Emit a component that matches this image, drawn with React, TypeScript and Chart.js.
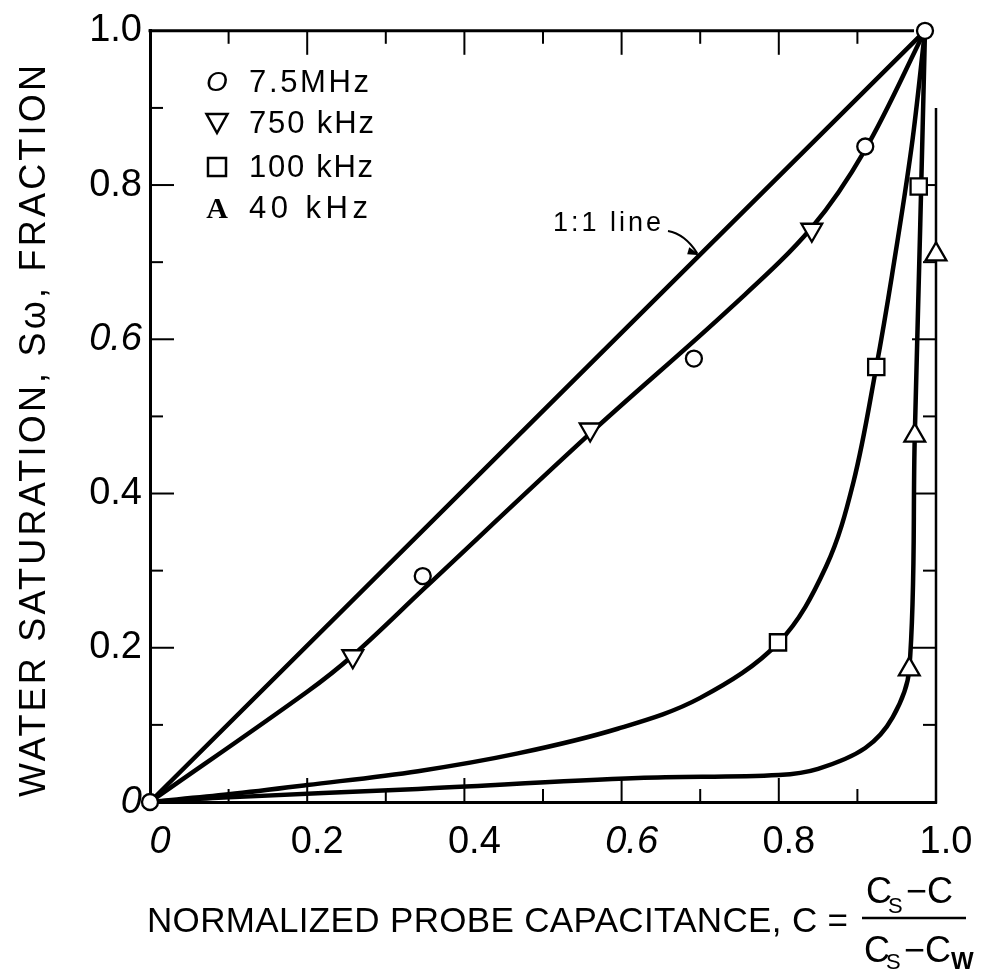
import React, { useEffect, useRef } from 'react';
import { Chart, registerables } from 'chart.js';

Chart.register(...registerables);

// ---------- data ----------
const xTickValues = [0, 0.2, 0.4, 0.6, 0.8, 1.0];
const yTickValues = [0, 0.2, 0.4, 0.6, 0.8, 1.0];
const frameTickValues = [0.1, 0.2, 0.3, 0.4, 0.5, 0.6, 0.7, 0.8, 0.9];
const italicTickValues = [0, 0.6];

// 1:1 line
const lineOneX = [0, 0.986];
const lineOneY = [0, 1.0];

// 7.5 MHz / 750 kHz fitted curve
const curveHighX = [0, 0.2, 0.258, 0.35, 0.56, 0.74, 0.842, 0.91, 0.986];
const curveHighY = [0, 0.143, 0.19, 0.278, 0.478, 0.642, 0.745, 0.846, 1.0];

// 100 kHz fitted curve
const curve100X = [0, 0.1, 0.2, 0.341, 0.468, 0.595, 0.7, 0.8, 0.86, 0.895, 0.924, 0.944, 0.969, 0.986];
const curve100Y = [0, 0.01, 0.022, 0.04, 0.063, 0.095, 0.135, 0.207, 0.305, 0.415, 0.564, 0.683, 0.85, 1.0];

// 40 kHz fitted curve
const curve40X = [0, 0.1, 0.341, 0.621, 0.8, 0.85, 0.91, 0.945, 0.966, 0.973, 0.98, 0.986];
const curve40Y = [0, 0.006, 0.017, 0.031, 0.035, 0.043, 0.07, 0.11, 0.172, 0.475, 0.75, 1.0];

// measured points
const pts75MHzX = [0, 0.347, 0.692, 0.91, 0.986];
const pts75MHzY = [0, 0.293, 0.575, 0.85, 1.0];
const pts750kX = [0.258, 0.56, 0.842];
const pts750kY = [0.189, 0.483, 0.742];
const pts100kX = [0.799, 0.924, 0.978];
const pts100kY = [0.207, 0.564, 0.798];
const pts40kX = [0.966, 0.973, 1.0];
const pts40kY = [0.172, 0.475, 0.71];

const legendLabels = ['7.5MHz', '750 kHz', '100 kHz', '40 kHz'];
const xTitle = 'NORMALIZED PROBE CAPACITANCE, C =';
const yTitle = 'WATER SATURATION, S\u03c9, FRACTION';
const lineLabel = '1:1 line';

const FONT = "'Liberation Sans', Arial, sans-serif";

const toPoints = (xs: number[], ys: number[]) => xs.map((x, i) => ({ x, y: ys[i] }));
const isItalic = (v: number) => italicTickValues.some((t) => Math.abs(t - v) < 1e-6);
const fmt = (v: number) => (Math.abs(v) < 1e-9 ? '0' : v.toFixed(1));

function fitText(ctx: CanvasRenderingContext2D, text: string, x: number, y: number, width: number) {
  const c: any = ctx;
  if ('letterSpacing' in c) c.letterSpacing = '0px';
  const w = ctx.measureText(text).width;
  const n = Array.from(text).length;
  ctx.textAlign = 'left';
  if ('letterSpacing' in c && n > 1) {
    const sp = (width - w) / (n - 1);
    c.letterSpacing = sp + 'px';
    ctx.fillText(text, x, y);
    c.letterSpacing = '0px';
  } else {
    ctx.save();
    ctx.translate(x, y);
    ctx.scale(width / w, 1);
    ctx.fillText(text, 0, 0);
    ctx.restore();
  }
}

function drawSymbol(ctx: CanvasRenderingContext2D, kind: number, cx: number, cy: number) {
  ctx.save();
  ctx.strokeStyle = '#000';
  ctx.fillStyle = '#000';
  ctx.lineWidth = 2.5;
  if (kind === 0) {
    ctx.font = `italic 28px ${FONT}`;
    ctx.textAlign = 'center';
    ctx.textBaseline = 'middle';
    ctx.fillText('O', cx, cy + 1);
  } else if (kind === 1) {
    ctx.beginPath();
    ctx.moveTo(cx - 10.5, cy - 9);
    ctx.lineTo(cx + 10.5, cy - 9);
    ctx.lineTo(cx, cy + 10);
    ctx.closePath();
    ctx.stroke();
  } else if (kind === 2) {
    ctx.beginPath();
    ctx.rect(cx - 9, cy - 9, 18, 18);
    ctx.stroke();
  } else {
    ctx.font = `bold 30px 'Liberation Serif', serif`;
    ctx.textAlign = 'center';
    ctx.textBaseline = 'alphabetic';
    ctx.fillText('A', cx, cy + 10);
  }
  ctx.restore();
}

const decorPlugin = {
  id: 'decor',
  beforeDatasetsDraw(chart: any) {
    const { ctx, chartArea } = chart;
    const xs = chart.scales.x;
    const ys = chart.scales.y;
    const { left, right, top, bottom } = chartArea;
    ctx.save();
    ctx.strokeStyle = '#000';
    ctx.lineCap = 'butt';
    // top frame
    ctx.lineWidth = 3;
    ctx.beginPath();
    ctx.moveTo(left - 1.5, top);
    ctx.lineTo(xs.getPixelForValue(0.972), top);
    ctx.stroke();
    // right frame
    ctx.lineWidth = 2.5;
    ctx.beginPath();
    ctx.moveTo(right, bottom + 1.5);
    ctx.lineTo(right, ys.getPixelForValue(0.9));
    ctx.stroke();
    // inward ticks
    ctx.lineWidth = 2;
    const seg = (a: number, b: number, c: number, d: number) => {
      ctx.beginPath();
      ctx.moveTo(a, b);
      ctx.lineTo(c, d);
      ctx.stroke();
    };
    for (const v of frameTickValues) {
      const major = Math.round(v * 10) % 2 === 0;
      const len = major ? 24 : 13;
      const px = xs.getPixelForValue(v);
      const py = ys.getPixelForValue(v);
      seg(px, bottom, px, bottom - len);
      seg(px, top, px, top + len);
      seg(left, py, left + len, py);
      if (v <= 0.8 + 1e-9) seg(right, py, right - len, py);
    }
    ctx.restore();
  },
  afterDraw(chart: any) {
    const { ctx, chartArea } = chart;
    const xs = chart.scales.x;
    const ys = chart.scales.y;
    const { left } = chartArea;
    ctx.save();
    ctx.fillStyle = '#000';
    ctx.strokeStyle = '#000';

    // legend
    const rowBase = [92, 133, 177, 218];
    const rowWidths = [120, 125, 124, 119];
    ctx.textBaseline = 'alphabetic';
    legendLabels.forEach((lab, i) => {
      drawSymbol(ctx, i, left + 67, rowBase[i] - 10);
      ctx.font = `31px ${FONT}`;
      fitText(ctx, lab, left + 99, rowBase[i], rowWidths[i]);
    });

    // 1:1 line label with arrow
    ctx.font = `27px ${FONT}`;
    ctx.textBaseline = 'alphabetic';
    fitText(ctx, lineLabel, 553, 231, 108);
    const tipX = xs.getPixelForValue(0.7);
    const tipY = ys.getPixelForValue(0.709);
    ctx.lineWidth = 2;
    ctx.beginPath();
    ctx.moveTo(668, 231);
    ctx.quadraticCurveTo(685, 234, tipX - 3, tipY - 2);
    ctx.stroke();
    ctx.beginPath();
    ctx.moveTo(tipX, tipY);
    ctx.lineTo(tipX - 11, tipY - 8);
    ctx.lineTo(tipX - 13, tipY - 1);
    ctx.closePath();
    ctx.fill();

    // x title
    ctx.font = `35px ${FONT}`;
    fitText(ctx, xTitle, 147, 932, 701);
    // fraction
    ctx.font = `36px ${FONT}`;
    ctx.fillText('C', 866, 903);
    ctx.font = `22px ${FONT}`;
    ctx.fillText('S', 888, 913);
    ctx.font = `36px ${FONT}`;
    ctx.fillText('\u2212C', 906, 903);
    ctx.lineWidth = 2.5;
    ctx.beginPath();
    ctx.moveTo(862, 918);
    ctx.lineTo(966, 918);
    ctx.stroke();
    ctx.font = `36px ${FONT}`;
    ctx.fillText('C', 864, 962);
    ctx.font = `22px ${FONT}`;
    ctx.fillText('S', 886, 969);
    ctx.font = `36px ${FONT}`;
    ctx.fillText('\u2212C', 904, 962);
    ctx.font = `bold 24px ${FONT}`;
    ctx.fillText('W', 951, 969);

    // y title (rotated)
    ctx.save();
    ctx.translate(32, 431);
    ctx.rotate(-Math.PI / 2);
    ctx.font = `36px ${FONT}`;
    ctx.textBaseline = 'alphabetic';
    fitText(ctx, yTitle, -366, 13, 732);
    ctx.restore();

    ctx.restore();
  },
};

export default function App() {
  const canvasRef = useRef<HTMLCanvasElement | null>(null);

  useEffect(() => {
    const canvas = canvasRef.current;
    if (!canvas) return;

    const lineDs = (data: any[]) => ({
      type: 'line' as const,
      data,
      showLine: true,
      borderColor: '#000',
      borderWidth: 4.5,
      pointRadius: 0,
      fill: false,
      tension: 0.35,
      cubicInterpolationMode: 'default' as const,
      borderCapStyle: 'round' as const,
      clip: false as any,
      order: 1,
    });
    const markerDs = (data: any[], style: string, radius: number, rotation = 0) => ({
      type: 'scatter' as const,
      data,
      showLine: false,
      pointStyle: style,
      pointRadius: radius,
      pointRotation: rotation,
      pointBackgroundColor: '#fff',
      pointBorderColor: '#000',
      pointBorderWidth: 2.3,
      clip: false as any,
      order: 0,
    });

    const chart = new Chart(canvas, {
      type: 'scatter',
      data: {
        datasets: [
          lineDs(toPoints(lineOneX, lineOneY)),
          lineDs(toPoints(curveHighX, curveHighY)),
          lineDs(toPoints(curve100X, curve100Y)),
          lineDs(toPoints(curve40X, curve40Y)),
          markerDs(toPoints(pts75MHzX, pts75MHzY), 'circle', 8),
          markerDs(toPoints(pts750kX, pts750kY), 'triangle', 12, 180),
          markerDs(toPoints(pts100kX, pts100kY), 'rect', 11.5),
          markerDs(toPoints(pts40kX, pts40kY), 'triangle', 12),
        ] as any,
      },
      options: {
        animation: false,
        responsive: false,
        maintainAspectRatio: false,
        devicePixelRatio: 1,
        layout: { padding: { left: 0, right: 46, top: 23, bottom: 0 } },
        plugins: { legend: { display: false }, tooltip: { enabled: false } },
        scales: {
          x: {
            type: 'linear',
            min: 0,
            max: 1,
            afterFit: (s: any) => {
              s.height = 973 - 802;
            },
            afterBuildTicks: (s: any) => {
              s.ticks = xTickValues.map((v) => ({ value: v }));
            },
            grid: { display: false, drawTicks: false },
            border: { display: true, color: '#000', width: 3 },
            ticks: {
              padding: 18,
              labelOffset: 10,
              color: '#000',
              maxRotation: 0,
              autoSkip: false,
              font: (c: any) => ({ family: FONT, size: 38, style: isItalic(c.tick?.value ?? 1) ? 'italic' : 'normal' }),
              callback: (v: any) => fmt(Number(v)),
            },
          },
          y: {
            type: 'linear',
            min: 0,
            max: 1,
            afterFit: (s: any) => {
              s.width = 150;
            },
            afterBuildTicks: (s: any) => {
              s.ticks = yTickValues.map((v) => ({ value: v }));
            },
            grid: { display: false, drawTicks: false },
            border: { display: true, color: '#000', width: 3 },
            ticks: {
              padding: 8,
              color: '#000',
              autoSkip: false,
              font: (c: any) => ({ family: FONT, size: 38, style: isItalic(c.tick?.value ?? 1) ? 'italic' : 'normal' }),
              callback: (v: any) => fmt(Number(v)),
            },
          },
        },
      } as any,
      plugins: [decorPlugin as any],
    });

    return () => chart.destroy();
  }, []);

  return (
    <div style={{ position: 'absolute', left: 0, top: 0, width: 982, height: 973, background: '#fff' }}>
      <canvas ref={canvasRef} width={982} height={973} style={{ display: 'block', width: 982, height: 973 }} />
    </div>
  );
}
